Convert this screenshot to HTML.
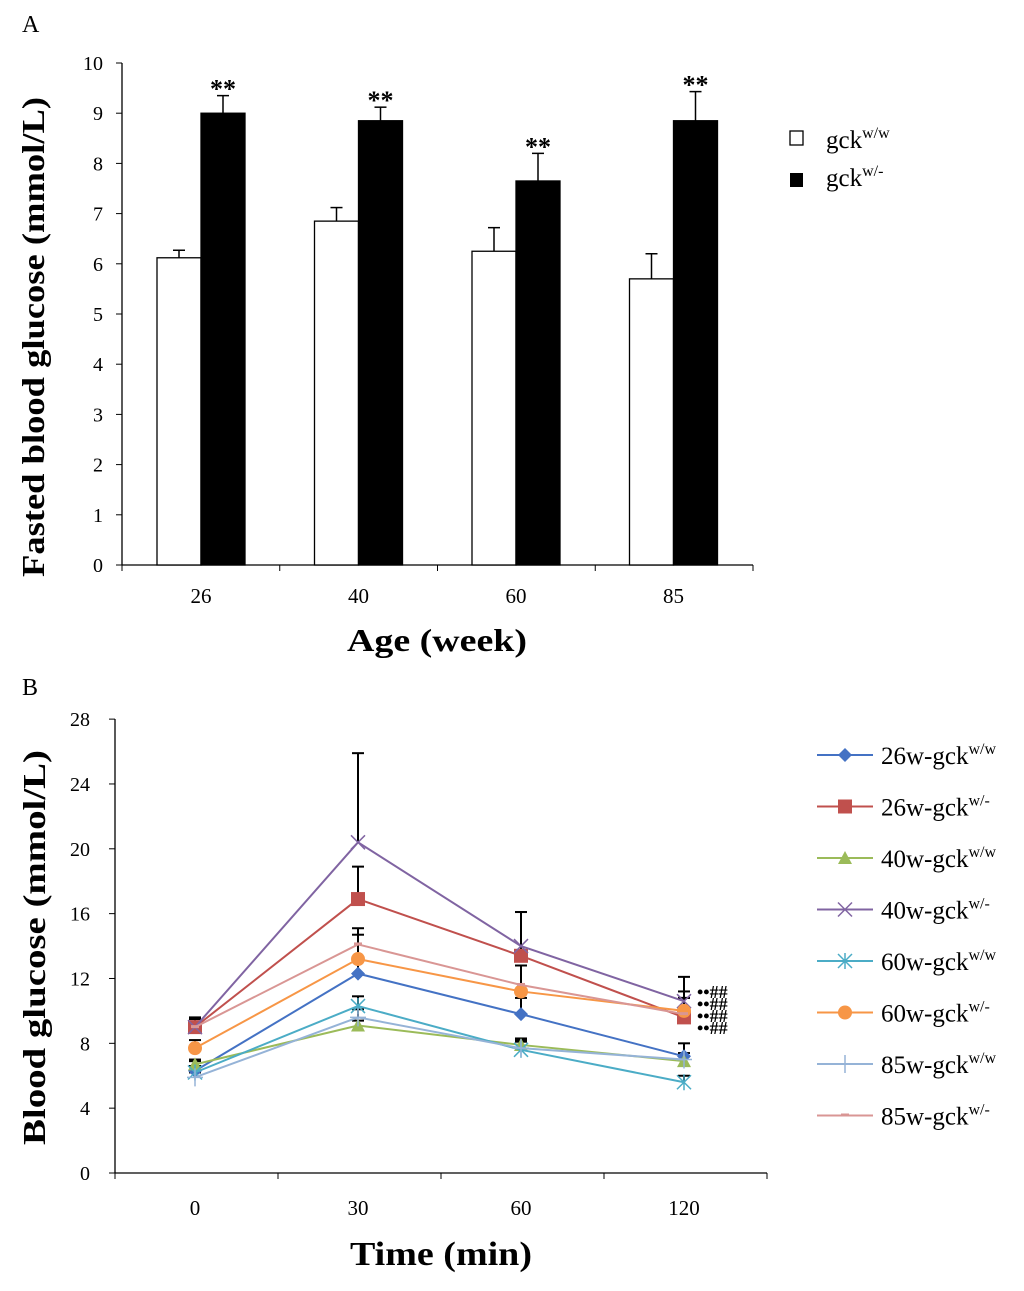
<!DOCTYPE html>
<html><head><meta charset="utf-8"><style>
body{margin:0;background:#fff;}
svg{display:block;font-family:"Liberation Serif",serif;}
</style></head><body>
<svg id="c" width="1024" height="1291" xmlns="http://www.w3.org/2000/svg">
<text x="22" y="32" font-size="24">A</text>
<text x="22" y="695" font-size="24">B</text>
<g id="ga"></g>
<g id="gb"></g>
</svg>
<script>
const ageCats=["26","40","60","85"];
const wwVals=[6.12,6.85,6.25,5.7];
const wwErr=[0.15,0.27,0.47,0.5];
const wmVals=[9.0,8.85,7.65,8.85];
const wmErr=[0.35,0.27,0.55,0.58];
const aTicks=[0,1,2,3,4,5,6,7,8,9,10];

const timeCats=["0","30","60","120"];
const bTicks=[0,4,8,12,16,20,24,28];
const sNames=["26w-gck","26w-gck","40w-gck","40w-gck","60w-gck","60w-gck","85w-gck","85w-gck"];
const sSup=["w/w","w/-","w/w","w/-","w/w","w/-","w/w","w/-"];
const s26ww=[6.3,12.3,9.8,7.2];
const s26wm=[9.0,16.9,13.4,9.6];
const s40ww=[6.7,9.1,7.9,6.9];
const s40wm=[9.0,20.4,14.0,10.6];
const s60ww=[6.2,10.3,7.6,5.6];
const s60wm=[7.7,13.2,11.2,10.0];
const s85ww=[5.9,9.6,7.7,7.0];
const s85wm=[9.0,14.1,11.6,9.8];
const e26ww=[0.6,0.8,1.0,0.8];
const e26wm=[0.6,2.0,2.7,1.2];
const e40ww=[0.3,0.3,0.4,0.3];
const e40wm=[0.5,5.5,2.1,1.5];
const e60ww=[0.4,0.6,0.5,0.4];
const e60wm=[0.5,1.5,1.6,1.2];
const e85ww=[0.3,0.5,0.5,0.4];
const e85wm=[0.5,1.0,1.2,1.0];

const NS="http://www.w3.org/2000/svg";
function mk(p,t,a){const e=document.createElementNS(NS,t);for(const k in a)e.setAttribute(k,a[k]);p.appendChild(e);return e;}
const ga=document.getElementById('ga'),gb=document.getElementById('gb');

// Panel A
const ay=v=>565-v*50.2, ax=i=>201+i*157.5;
let e=mk(ga,'line',{x1:122,y1:63,x2:122,y2:565,stroke:'#000','stroke-width':1.3});

e=mk(ga,'line',{x1:122,y1:565,x2:753,y2:565,stroke:'#000','stroke-width':1.3});

aTicks.forEach(t=>{mk(ga,'line',{x1:116,y1:ay(t),x2:122,y2:ay(t),stroke:'#000'});
 e=mk(ga,'text',{x:103,y:ay(t)+7,'font-size':20,'text-anchor':'end'});e.textContent=t;
 });
for(let i=0;i<=4;i++)mk(ga,'line',{x1:122+i*157.75,y1:565,x2:122+i*157.75,y2:571,stroke:'#000'});
ageCats.forEach((c,i)=>{
 const x=ax(i);
 e=mk(ga,'text',{x:x,y:603,'font-size':21,'text-anchor':'middle'});e.textContent=c;
 
 mk(ga,'line',{x1:x-22,y1:ay(wwVals[i]+wwErr[i]),x2:x-22,y2:ay(wwVals[i]),stroke:'#000','stroke-width':1.5});
 mk(ga,'line',{x1:x-28,y1:ay(wwVals[i]+wwErr[i]),x2:x-16,y2:ay(wwVals[i]+wwErr[i]),stroke:'#000','stroke-width':1.5});
 e=mk(ga,'rect',{x:x-44,y:ay(wwVals[i]),width:44,height:ay(0)-ay(wwVals[i]),fill:'#fff',stroke:'#000','stroke-width':1.3});
 
 mk(ga,'line',{x1:x+22,y1:ay(wmVals[i]+wmErr[i]),x2:x+22,y2:ay(wmVals[i]),stroke:'#000','stroke-width':1.5});
 mk(ga,'line',{x1:x+16,y1:ay(wmVals[i]+wmErr[i]),x2:x+28,y2:ay(wmVals[i]+wmErr[i]),stroke:'#000','stroke-width':1.5});
 e=mk(ga,'rect',{x:x,y:ay(wmVals[i]),width:44,height:ay(0)-ay(wmVals[i]),fill:'#000',stroke:'#000','stroke-width':1.3});
 
 e=mk(ga,'text',{x:x+22,y:ay(wmVals[i]+wmErr[i])+2,'font-size':26,'text-anchor':'middle','font-weight':'bold'});e.textContent='**';
 
});
e=mk(ga,'text',{x:347,y:651,'font-size':32,'font-weight':'bold',textLength:180,lengthAdjust:'spacingAndGlyphs'});e.textContent='Age (week)';

e=mk(ga,'text',{x:0,y:0,'font-size':32,'font-weight':'bold',textLength:480,lengthAdjust:'spacingAndGlyphs',transform:'translate(44,577) rotate(-90)'});e.textContent='Fasted blood glucose (mmol/L)';

mk(ga,'rect',{x:790,y:131,width:13,height:14,fill:'#fff',stroke:'#000','stroke-width':1.3});
mk(ga,'rect',{x:790,y:173,width:13,height:14,fill:'#000'});
e=mk(ga,'text',{x:826,y:148,'font-size':25});e.innerHTML='gck<tspan font-size="16" dy="-10">w/w</tspan>';

e=mk(ga,'text',{x:826,y:186,'font-size':25});e.innerHTML='gck<tspan font-size="16" dy="-10">w/-</tspan>';


// Panel B
const by=v=>1173-v*16.21, bx=i=>195+i*163;
e=mk(gb,'line',{x1:115,y1:719,x2:115,y2:1173,stroke:'#000','stroke-width':1.3});

e=mk(gb,'line',{x1:115,y1:1173,x2:767,y2:1173,stroke:'#000','stroke-width':1.3});

bTicks.forEach(t=>{mk(gb,'line',{x1:109,y1:by(t),x2:115,y2:by(t),stroke:'#000'});
 e=mk(gb,'text',{x:90,y:by(t)+7,'font-size':20,'text-anchor':'end'});e.textContent=t;
 });
for(let i=0;i<=4;i++)mk(gb,'line',{x1:115+i*163,y1:1173,x2:115+i*163,y2:1179,stroke:'#000'});
timeCats.forEach((c,i)=>{e=mk(gb,'text',{x:bx(i),y:1215,'font-size':21,'text-anchor':'middle'});e.textContent=c;
 });
const series=[s26ww,s26wm,s40ww,s40wm,s60ww,s60wm,s85ww,s85wm];
const errs=[e26ww,e26wm,e40ww,e40wm,e60ww,e60wm,e85ww,e85wm];
const cols=['#4472c4','#c0504d','#9bbb59','#8064a2','#4bacc6','#f79646','#95b3d7','#d99694'];
const mks=['diamond','square','triangle','x','star','circle','plus','dash'];
function marker(g,m,x,y,c){
 if(m==='diamond')mk(g,'polygon',{points:`${x},${y-7} ${x+7},${y} ${x},${y+7} ${x-7},${y}`,fill:c});
 else if(m==='square')mk(g,'rect',{x:x-7,y:y-7,width:14,height:14,fill:c});
 else if(m==='triangle')mk(g,'polygon',{points:`${x},${y-7} ${x+7},${y+6} ${x-7},${y+6}`,fill:c});
 else if(m==='x'){mk(g,'path',{d:`M${x-7},${y-7}L${x+7},${y+7}M${x+7},${y-7}L${x-7},${y+7}`,stroke:c,'stroke-width':1.5});}
 else if(m==='star'){mk(g,'path',{d:`M${x-7},${y-7}L${x+7},${y+7}M${x+7},${y-7}L${x-7},${y+7}M${x},${y-8}L${x},${y+8}`,stroke:c,'stroke-width':1.5});}
 else if(m==='circle')mk(g,'circle',{cx:x,cy:y,r:7,fill:c});
 else if(m==='plus')mk(g,'path',{d:`M${x-8},${y}L${x+8},${y}M${x},${y-9}L${x},${y+9}`,stroke:c,'stroke-width':1.5});
 else mk(g,'rect',{x:x-4,y:y-2,width:8,height:3,fill:c});
}
series.forEach((s,k)=>{s.forEach((v,i)=>{const x=bx(i),t=by(v+errs[k][i]);
 mk(gb,'line',{x1:x,y1:by(v),x2:x,y2:t,stroke:'#000','stroke-width':2});
 mk(gb,'line',{x1:x-6,y1:t,x2:x+6,y2:t,stroke:'#000','stroke-width':2});});});
series.forEach((s,k)=>{
 const g=mk(gb,'g',{});
 
 
 mk(g,'polyline',{points:s.map((v,i)=>bx(i)+','+by(v)).join(' '),fill:'none',stroke:cols[k],'stroke-width':2});
 s.forEach((v,i)=>marker(g,mks[k],bx(i),by(v),cols[k]));
 const ly=755+k*51.5;
 const lg=mk(gb,'g',{});
 
 
 mk(lg,'line',{x1:817,y1:ly,x2:873,y2:ly,stroke:cols[k],'stroke-width':2});
 marker(lg,mks[k],845,ly,cols[k]);
 const t=mk(lg,'text',{x:881,y:ly+9,'font-size':25});
 t.innerHTML=sNames[k]+'<tspan font-size="16" dy="-10">'+sSup[k]+'</tspan>';
});
['••##','••##','••##','••##'].forEach((s,j)=>{e=mk(gb,'text',{x:697,y:998+j*12,'font-size':18,'font-weight':'bold'});e.textContent=s;
 });
e=mk(gb,'text',{x:350,y:1265,'font-size':34,'font-weight':'bold',textLength:182,lengthAdjust:'spacingAndGlyphs'});e.textContent='Time (min)';

e=mk(gb,'text',{x:0,y:0,'font-size':32,'font-weight':'bold',textLength:395,lengthAdjust:'spacingAndGlyphs',transform:'translate(45,1145) rotate(-90)'});e.textContent='Blood glucose (mmol/L)';

</script>
</body></html>
